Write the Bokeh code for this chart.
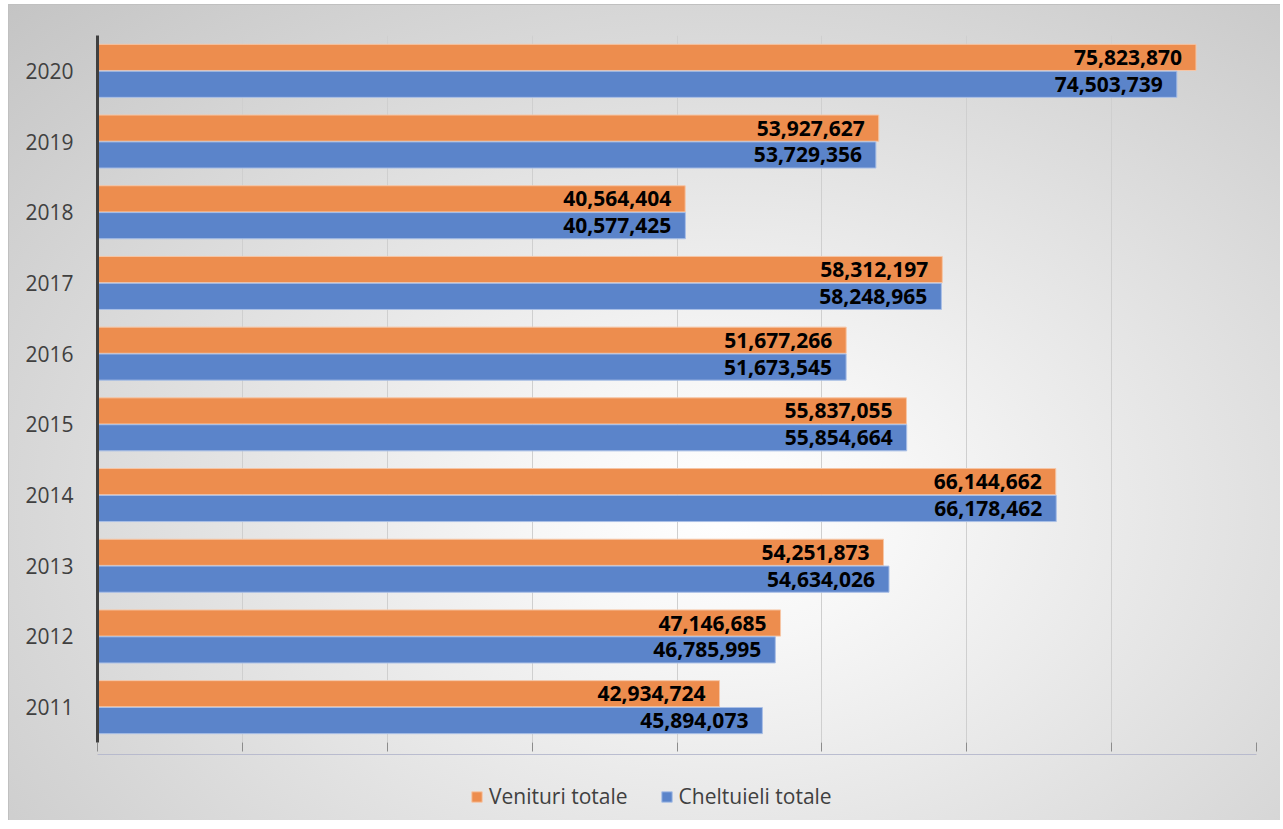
from bokeh.plotting import figure
from bokeh.layouts import column
from bokeh.models import ColumnDataSource, Range1d, FactorRange, Legend, LegendItem, FixedTicker, CustomJSTickFormatter
from bokeh.transform import dodge
from bokeh.embed import file_html
from bokeh.resources import INLINE
from bokeh.core.properties import value

years = ["2011", "2012", "2013", "2014", "2015", "2016", "2017", "2018", "2019", "2020"]
venituri = [42934724, 47146685, 54251873, 66144662, 55837055, 51677266, 58312197, 40564404, 53927627, 75823870]
cheltuieli = [45894073, 46785995, 54634026, 66178462, 55854664, 51673545, 58248965, 40577425, 53729356, 74503739]
series_names = ["Venituri totale", "Cheltuieli totale"]
x_ticks = [0, 10e6, 20e6, 30e6, 40e6, 50e6, 60e6, 70e6, 80e6]

ORANGE = "#ED8D4E"
BLUE = "#5B84CA"
FONT = "Open Sans"

src = ColumnDataSource(dict(
    year=years,
    ven=venituri,
    chel=cheltuieli,
    ven_lbl=[f"{v:,}" for v in venituri],
    chel_lbl=[f"{v:,}" for v in cheltuieli],
))

p = figure(frame_width=1159, frame_height=707, output_backend="svg", toolbar_location=None,
           y_range=FactorRange(factors=years, range_padding=0),
           x_range=Range1d(0, 80e6))
p.min_border_left = 89
p.min_border_right = 24
p.min_border_top = 31
p.min_border_bottom = 12
p.background_fill_color = None
p.border_fill_color = None
p.outline_line_color = None

r1 = p.hbar(y=dodge("year", 0.19, range=p.y_range), right="ven", left=0, height=0.37,
            source=src, fill_color=ORANGE, line_color="#F6C6A6", line_width=1)
r2 = p.hbar(y=dodge("year", -0.19, range=p.y_range), right="chel", left=0, height=0.37,
            source=src, fill_color=BLUE, line_color="#A9BFE6", line_width=1)

p.text(x="ven", y=dodge("year", 0.19, range=p.y_range), text="ven_lbl", source=src,
       x_offset=-14, text_align="right", text_baseline="middle",
       text_font=value(FONT), text_font_style="bold", text_font_size="21px", text_color="#000000")
p.text(x="chel", y=dodge("year", -0.19, range=p.y_range), text="chel_lbl", source=src,
       x_offset=-14, text_align="right", text_baseline="middle",
       text_font=value(FONT), text_font_style="bold", text_font_size="21px", text_color="#000000")

# x axis: no labels, only outward ticks
p.xaxis.ticker = FixedTicker(ticks=x_ticks)
p.xaxis.formatter = CustomJSTickFormatter(code="return ''")
p.xaxis.axis_line_color = None
p.xaxis.major_tick_in = 0
p.xaxis.major_tick_out = 9
p.xaxis.major_tick_line_color = "#8c8c8c"
p.xaxis.minor_tick_line_color = None
p.xaxis.major_label_text_font_size = "1px"
p.xaxis.major_label_standoff = 0

p.xgrid.ticker = FixedTicker(ticks=x_ticks)
p.xgrid.grid_line_color = "#cfcfcf"
p.ygrid.grid_line_color = None

p.yaxis.axis_line_color = "#404040"
p.yaxis.axis_line_width = 3
p.yaxis.major_tick_line_color = None
p.yaxis.minor_tick_line_color = None
p.yaxis.major_label_text_font = FONT
p.yaxis.major_label_text_font_size = "21px"
p.yaxis.major_label_text_color = "#404040"
p.yaxis.major_label_standoff = 18

# legend strip below the chart (swatch renderers sit outside the visible range)
swatch = ColumnDataSource(dict(y=[10], right=[1]))
lf = figure(width=1272, height=66, output_backend="svg", toolbar_location=None,
            x_axis_type=None, y_axis_type=None,
            x_range=Range1d(0, 1), y_range=Range1d(0, 1))
lf.min_border = 0
lf.background_fill_color = None
lf.border_fill_color = None
lf.outline_line_color = None
lf.xgrid.grid_line_color = None
lf.ygrid.grid_line_color = None
d1 = lf.hbar(y="y", right="right", height=0.5, source=swatch, fill_color=ORANGE, line_color="#F6C6A6")
d2 = lf.hbar(y="y", right="right", height=0.5, source=swatch, fill_color=BLUE, line_color="#A9BFE6")

legend = Legend(items=[LegendItem(label=series_names[0], renderers=[d1]),
                       LegendItem(label=series_names[1], renderers=[d2])],
                orientation="horizontal", location=(373, 10),
                padding=0, margin=0, spacing=32, label_standoff=6,
                glyph_width=13, glyph_height=13,
                label_text_font=FONT, label_text_font_size="21px", label_text_color="#404040",
                border_line_color=None, background_fill_color=None, background_fill_alpha=0)
lf.add_layout(legend, "center")

layout = column(p, lf, spacing=0)
layout.styles = {
    "margin-left": "8px",
    "margin-top": "4px",
    "background": "radial-gradient(ellipse farthest-corner at 56% 62%, #ffffff 0%, #f7f7f7 18%, #c4c4c4 100%)",
    "box-shadow": "inset 1px 1px 0 0 #c0c0c0",
}

open("out.html", "w").write(file_html(layout, INLINE))
